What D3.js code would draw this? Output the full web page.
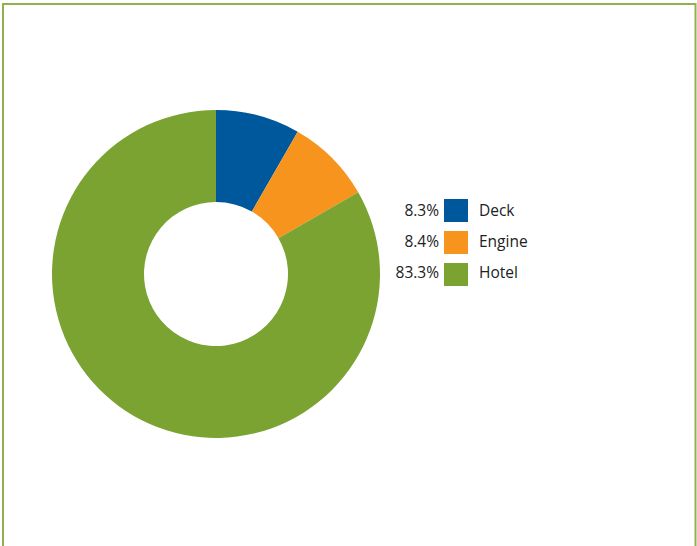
<!DOCTYPE html>
<html><head><meta charset="utf-8">
<script src="https://cdn.jsdelivr.net/npm/d3@7"></script>
<style>body{margin:0;background:#fff}svg{display:block}</style>
</head><body>
<script>
const categories = ["Deck", "Engine", "Hotel"];
const values = [8.3, 8.4, 83.3];
const labels = ["8.3%", "8.4%", "83.3%"];
const colors = ["#00589c", "#f7941d", "#7aa332"];

const W = 697, H = 546;
const svg = d3.select("body").append("svg").attr("width", W).attr("height", H);
svg.append("rect").attr("x", 3).attr("y", 4).attr("width", 692.5).attr("height", 560)
  .attr("fill", "none").attr("stroke", "#8fb24f").attr("stroke-width", 2);

const cx = 216, cy = 274, R = 164, r = 72;
const pie = d3.pie().sort(null).value(d => d)(values);
const arc = d3.arc().innerRadius(r).outerRadius(R);
const g = svg.append("g").attr("transform", `translate(${cx},${cy})`);
g.selectAll("path").data(pie).join("path").attr("d", arc).attr("fill", (d, i) => colors[i]);

const leg = svg.append("g").attr("font-family", "'Open Sans', 'Noto Sans', sans-serif").attr("font-size", 15.5).attr("fill", "#222");
categories.forEach((c, i) => {
  const yy = 199 + i * 32;
  const ty = 216 + i * 31;
  leg.append("rect").attr("x", 444).attr("y", yy).attr("width", 24).attr("height", 23).attr("fill", colors[i]);
  leg.append("text").attr("x", 439).attr("y", ty).attr("text-anchor", "end").text(labels[i]);
  leg.append("text").attr("x", 479).attr("y", ty).text(c);
});
</script>
</body></html>
